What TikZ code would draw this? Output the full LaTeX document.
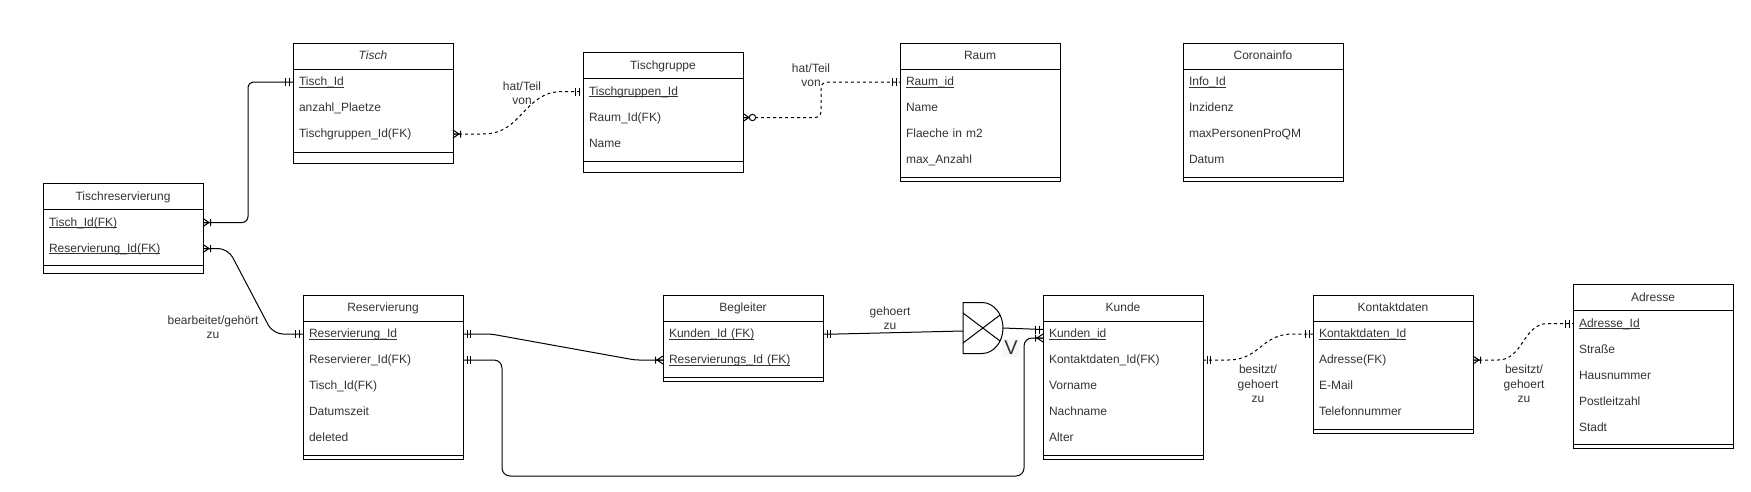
\documentclass[tikz,border=0pt]{standalone}
\usepackage{fontspec}
\setmainfont{Liberation Sans}
\usetikzlibrary{calc}
\newcommand\keyul[1]{\underline{\raisebox{0pt}[\height][0pt]{#1}}}
\newcommand\erentity[8]{%
  \node[hdr, anchor=north west] (#1-h) at (#2,#3) {#4};
  \foreach \rowtext [count=\i] in {#5} {
    \node[row, anchor=north west] (#1-\i) at (#2,{#3+26*\i}) {\rowtext};
  }
  \draw[box] (#1-h.north west) rectangle ([yshift=-#8pt]#1-#6.south east);
  \draw[box] (#1-h.south west) -- (#1-h.south east);
  \draw[box] ([yshift=-#7pt]#1-#6.south west) -- ([yshift=-#7pt]#1-#6.south east);
}
\begin{document}
\begin{tikzpicture}[x=1pt,y=-1pt,
  txt/.style={font=\fontsize{12}{14.5}\selectfont, text=black!80},
  hdr/.style={txt, minimum width=160pt, minimum height=26pt, inner sep=0pt, outer sep=0pt, align=center, text height=9.5pt, text depth=2.5pt},
  row/.style={txt, text width=148pt, inner xsep=6pt, inner ysep=0pt, outer sep=0pt, minimum height=26pt, align=left, text height=9.5pt, text depth=2.5pt},
  box/.style={draw=black, line width=1pt},
  rel/.style={draw=black, line width=1pt},
  dsh/.style={rel, dash pattern=on 3pt off 3pt},
  tipline/.style={draw=black, line width=1pt, solid},
  lbl/.style={txt, align=center, inner sep=1pt},
  onebar/.pic={\draw[tipline] (4,-4) -- (4,4) (7.5,-4) -- (7.5,4);},
  crowone/.pic={\draw[tipline] (0,-4) -- (6,0) -- (0,4) (0,0) -- (8,0) (7.5,-3.5) -- (7.5,3.5);},
  crowzero/.pic={\draw[tipline] (0,-4) -- (6,0) -- (0,4) (0,0) -- (6,0); \draw[tipline, fill=white] (9.5,0) circle (3.2);}
]
\useasboundingbox (0,0) rectangle (1751,491);

% entities
\erentity{tisch}{293}{43}{\textit{Tisch}}{\keyul{Tisch\_Id}, anzahl\_Plaetze, Tischgruppen\_Id(FK)}{3}{5}{16}
\erentity{tgruppe}{583}{52.5}{Tischgruppe}{\keyul{Tischgruppen\_Id}, Raum\_Id(FK), Name}{3}{5}{16}
\erentity{raum}{900}{43}{Raum}{\keyul{Raum\_id}, Name, Flaeche in m2, max\_Anzahl}{4}{4}{8}
\erentity{corona}{1183}{43}{Coronainfo}{\keyul{Info\_Id}, Inzidenz, maxPersonenProQM, Datum}{4}{4}{8}
\erentity{tres}{43}{183.5}{Tischreservierung}{\keyul{Tisch\_Id(FK)}, \keyul{Reservierung\_Id(FK)}}{2}{3.5}{11.5}
\erentity{res}{303}{295}{Reservierung}{\keyul{Reservierung\_Id}, Reservierer\_Id(FK), Tisch\_Id(FK), Datumszeit, deleted}{5}{4}{8}
\erentity{begl}{663}{295}{Begleiter}{\keyul{Kunden\_Id (FK)}, \keyul{Reservierungs\_Id (FK)}}{2}{4}{8}
\erentity{kunde}{1043}{295}{Kunde}{\keyul{Kunden\_id}, Kontaktdaten\_Id(FK), Vorname, Nachname, Alter}{5}{4}{8}
\erentity{kontakt}{1313}{295}{Kontaktdaten}{\keyul{Kontaktdaten\_Id}, Adresse(FK), E-Mail, Telefonnummer}{4}{4}{8}
\erentity{adr}{1573}{284.5}{Adresse}{\keyul{Adresse\_Id}, Straße, Hausnummer, Postleitzahl, Stadt}{5}{4}{8}

% Tischreservierung -> Tisch
\draw[rel, rounded corners=6pt] (tres-1.east) -- ++(45,0) |- (tisch-1.west);
\pic at (tres-1.east) {crowone};
\pic[xscale=-1] at (tisch-1.west) {onebar};

% Tischreservierung -> Reservierung
\draw[rel, rounded corners=10pt] (tres-2.east) -- ++(25,0) -- ([xshift=-30pt]res-1.west) -- (res-1.west);
\pic at (tres-2.east) {crowone};
\pic[xscale=-1] at (res-1.west) {onebar};
\node[lbl] (l2) at (213,327) {bearbeitet/gehört\\zu};

% Tisch -> Tischgruppe
\draw[dsh] (tisch-3.east) -- ++(30,0) .. controls +(40,0) and +(-40,0) .. ([xshift=-20pt]tgruppe-1.west) -- (tgruppe-1.west);
\pic at (tisch-3.east) {crowone};
\pic[xscale=-1] at (tgruppe-1.west) {onebar};
\node[lbl] (l3) at (522,93) {hat/Teil\\von};

% Tischgruppe -> Raum
\draw[dsh, rounded corners=6pt] (tgruppe-2.east) -- ++(78,0) |- (raum-1.west);
\pic at (tgruppe-2.east) {crowzero};
\pic[xscale=-1] at (raum-1.west) {onebar};
\node[lbl] (l4) at (811,75) {hat/Teil\\von};

% Reservierung -> Begleiter
\draw[rel, rounded corners=4pt] (res-1.east) -- ++(28,0) -- ([xshift=-28pt]begl-2.west) -- (begl-2.west);
\pic at (res-1.east) {onebar};
\pic[xscale=-1] at (begl-2.west) {crowone};

% Reservierung -> Kunde
\coordinate (klow) at ([yshift=-4pt]kunde-1.west);
\coordinate (kup) at ([yshift=4.5pt]kunde-1.west);
\draw[rel, rounded corners=8pt] (res-2.east) -- ++(39,0) -- ++(0,116) -| ([xshift=-19pt]klow) -- (klow);
\pic at (res-2.east) {onebar};
\pic[xscale=-1] at (klow) {crowone};

% gate
\node[minimum width=40pt, minimum height=51pt, inner sep=0pt, outer sep=0pt] (gate) at (983,328) {};
\draw[box, shift={(gate.center)}] (-20,-25.5) -- (-1,-25.5) .. controls (10.6,-25.5) and (20,-14.1) .. (20,0) .. controls (20,14.1) and (10.6,25.5) .. (-1,25.5) -- (-20,25.5) -- cycle;
\draw[box, shift={(gate.center)}] (-20,-15) -- (17,13) (-20,15) -- (17,-13);
\coordinate (gin) at ([yshift=-3pt]gate.west);
\draw[rel] (begl-1.east) -- ++(15,0) -- (gin);
\pic at (begl-1.east) {onebar};
\draw[rel] (gate.east) -- (kup);
\pic[xscale=-1] at (kup) {onebar};
\node[lbl] (l7) at (890,318) {gehoert\\zu};
\node[font=\fontsize{20}{20}\selectfont, fill=black!3, inner sep=2pt, text=black!80] (vlbl) at (1011,348) {V};

% Kunde -> Kontaktdaten
\draw[dsh] (kunde-2.east) -- ++(25,0) .. controls +(32,0) and +(-32,0) .. ([xshift=-20pt]kontakt-1.west) -- (kontakt-1.west);
\pic at (kunde-2.east) {onebar};
\pic[xscale=-1] at (kontakt-1.west) {onebar};
\node[lbl] (l8) at (1258,384) {besitzt/\\gehoert\\zu};

% Kontaktdaten -> Adresse
\draw[dsh] (kontakt-2.east) -- ++(25,0) .. controls +(25,0) and +(-25,0) .. ([xshift=-25pt]adr-1.west) -- (adr-1.west);
\pic at (kontakt-2.east) {crowone};
\pic[xscale=-1] at (adr-1.west) {onebar};
\node[lbl] (l9) at (1524,384) {besitzt/\\gehoert\\zu};
\end{tikzpicture}
\end{document}
